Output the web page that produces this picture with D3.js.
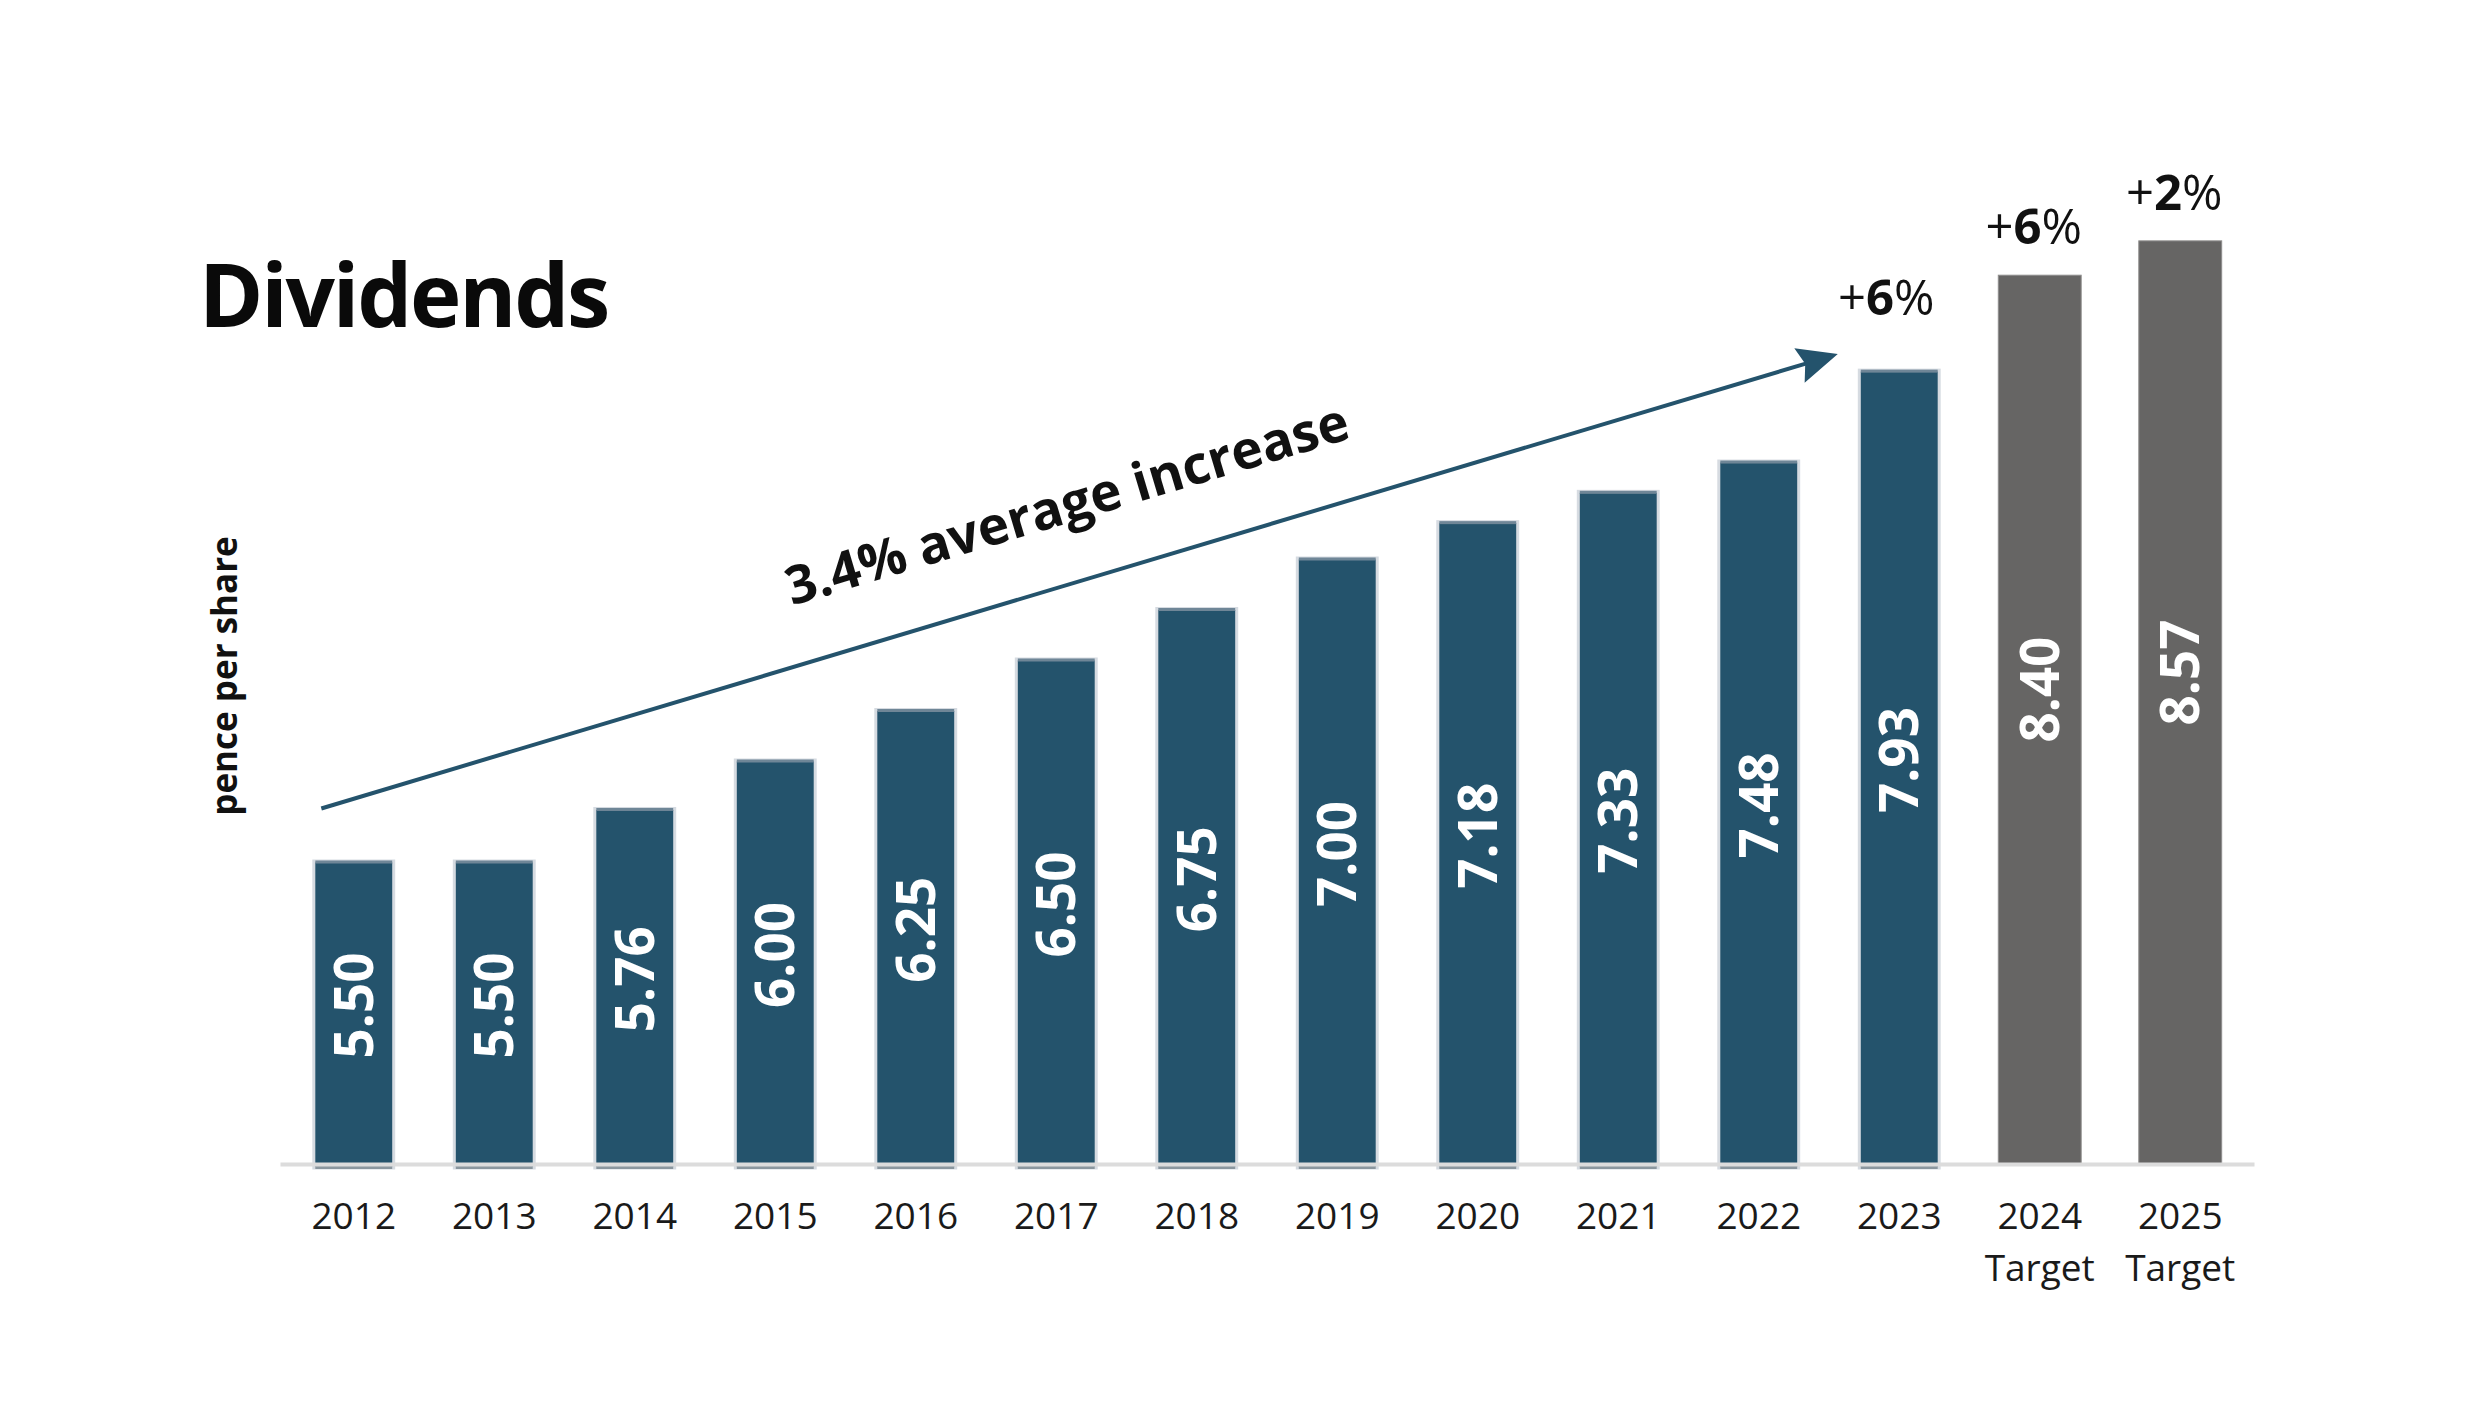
<!DOCTYPE html>
<html>
<head>
<meta charset="utf-8">
<script src="https://cdn.jsdelivr.net/npm/d3@7"></script>
<style>
  html, body { margin: 0; padding: 0; background: #ffffff; }
  svg { display: block; }
  text { font-family: "Open Sans", "Noto Sans", sans-serif; }
</style>
</head>
<body>
<svg id="chart" width="2480" height="1416"></svg>
<script>
// ---- data ----
const years      = ["2012","2013","2014","2015","2016","2017","2018","2019","2020","2021","2022","2023","2024","2025"];
const subLabels  = ["","","","","","","","","","","","","Target","Target"];
const dividends  = [5.50, 5.50, 5.76, 6.00, 6.25, 6.50, 6.75, 7.00, 7.18, 7.33, 7.48, 7.93, 8.40, 8.57];
const isTarget   = [false,false,false,false,false,false,false,false,false,false,false,false,true,true];
const valueLabels = ["5.50","5.50","5.76","6.00","6.25","6.50","6.75","7.00","7.18","7.33","7.48","7.93","8.40","8.57"];
const growthYears = ["2023","2024","2025"];
const growthPct   = ["6","6","2"];
const titleText   = "Dividends";
const yAxisLabel  = "pence per share";
const trendLabel  = "3.4% average increase";
// trend arrow from/to (in data terms)
const trendFrom = {year: "2012", value: 5.76};
const trendTo   = {year: "2023", value: 8.01};

const data = years.map((y, i) => ({year: y, sub: subLabels[i], value: dividends[i], target: isTarget[i], label: valueLabels[i]}));

// ---- layout ----
const svg = d3.select("#chart");
const baseY = 1164;
const x = d3.scaleBand().domain(years).range([280, 2254]).paddingInner(0.41).paddingOuter(0.23);
const y = d3.scaleLinear().domain([4, 9]).range([baseY, baseY - 5 * 202]);

const BLUE = "#24536c";
const GREY = "#666564";

// bars
const bars = svg.append("g");
bars.selectAll("rect.bar")
  .data(data)
  .join("rect")
  .attr("class", "bar")
  .attr("x", d => d.target ? x(d.year) : x(d.year) + 1.5)
  .attr("width", d => d.target ? x.bandwidth() : x.bandwidth() - 3)
  .attr("y", d => y(d.value))
  .attr("height", d => d.target ? baseY - y(d.value) : baseY - y(d.value) + 4)
  .attr("fill", d => d.target ? GREY : BLUE)
  .attr("stroke", d => d.target ? "#8f8e8d" : "#d6dbe1")
  .attr("stroke-width", d => d.target ? 1 : 3);

// top edge tint on blue bars
bars.selectAll("rect.topedge")
  .data(data.filter(d => !d.target))
  .join("rect")
  .attr("class", "topedge")
  .attr("x", d => x(d.year) + 3)
  .attr("width", x.bandwidth() - 6)
  .attr("y", d => y(d.value) - 0.5)
  .attr("height", 3)
  .attr("fill", "#6f8697");

// bottom strip under blue bars
bars.selectAll("rect.botedge")
  .data(data.filter(d => !d.target))
  .join("rect")
  .attr("class", "botedge")
  .attr("x", d => x(d.year) + 3)
  .attr("width", x.bandwidth() - 6)
  .attr("y", baseY + 2)
  .attr("height", 3)
  .attr("fill", "#8b979f");

// x axis
const xAxis = d3.axisBottom(x).tickSize(0).tickSizeOuter(0).tickPadding(39);
const gx = svg.append("g").attr("transform", `translate(0,${baseY})`).call(xAxis);
gx.select(".domain").attr("stroke", "#dcdcdc").attr("stroke-width", 4);
gx.selectAll(".tick text")
  .attr("font-size", 37)
  .attr("fill", "#1a1a1a")
  .attr("font-family", "'Open Sans', sans-serif")
  .each(function(d, i) {
    const t = d3.select(this);
    const sub = subLabels[years.indexOf(d)];
    if (sub) {
      t.text(null);
      t.append("tspan").attr("x", 0).text(d);
      t.append("tspan").attr("x", 0).attr("dy", 52).text(sub);
    }
  });

// value labels inside bars
svg.append("g").selectAll("text")
  .data(data)
  .join("text")
  .attr("transform", d => {
    const cx = x(d.year) + x.bandwidth() / 2;
    const cy = (y(d.value) + baseY) / 2 - (d.target ? 30 : 7);
    return `translate(${cx},${cy}) rotate(-90)`;
  })
  .attr("text-anchor", "middle")
  .attr("dy", "0.36em")
  .attr("font-size", 53)
  .attr("font-weight", 700)
  .attr("fill", "#ffffff")
  .text(d => d.label);

// growth labels
const gg = svg.append("g");
growthYears.forEach((yr, i) => {
  const d = data.find(e => e.year === yr);
  const lift = d.target ? 31 : 55;
  const shift = d.target ? -6 : -13;
  const t = gg.append("text")
    .attr("x", x(yr) + x.bandwidth() / 2 + shift)
    .attr("y", y(d.value) - lift)
    .attr("text-anchor", "middle")
    .attr("font-size", 49)
    .attr("fill", "#111");
  t.append("tspan").text("+");
  t.append("tspan").attr("font-weight", 700).text(growthPct[i]);
  t.append("tspan").text("%");
});

// trend arrow
const x0 = x(trendFrom.year) + 9, y0 = y(trendFrom.value);
const x1 = x(trendTo.year) - 20, y1 = y(trendTo.value);
const ang = Math.atan2(y1 - y0, x1 - x0);
const len = Math.hypot(x1 - x0, y1 - y0);
const ga = svg.append("g").attr("transform", `translate(${x0},${y0}) rotate(${ang * 180 / Math.PI})`);
ga.append("line")
  .attr("x1", 0).attr("y1", 0).attr("x2", len - 30).attr("y2", 0)
  .attr("stroke", BLUE).attr("stroke-width", 4);
ga.append("path")
  .attr("d", `M${len},0 L${len - 40},-18 L${len - 34},0 L${len - 40},18 Z`)
  .attr("fill", BLUE);
ga.append("text")
  .attr("x", len / 2 + 10)
  .attr("y", -59)
  .attr("text-anchor", "middle")
  .attr("font-size", 53)
  .attr("font-weight", 700)
  .attr("fill", "#111")
  .text(trendLabel);

// title
svg.append("text")
  .attr("x", 199).attr("y", 327)
  .attr("font-size", 87)
  .attr("font-weight", 700)
  .attr("fill", "#0a0a0a")
  .attr("letter-spacing", -2.2)
  .text(titleText);

// y-axis label
svg.append("text")
  .attr("transform", `translate(237,676) rotate(-90)`)
  .attr("text-anchor", "middle")
  .attr("font-size", 35)
  .attr("font-weight", 700)
  .attr("fill", "#111")
  .text(yAxisLabel);
</script>
</body>
</html>
